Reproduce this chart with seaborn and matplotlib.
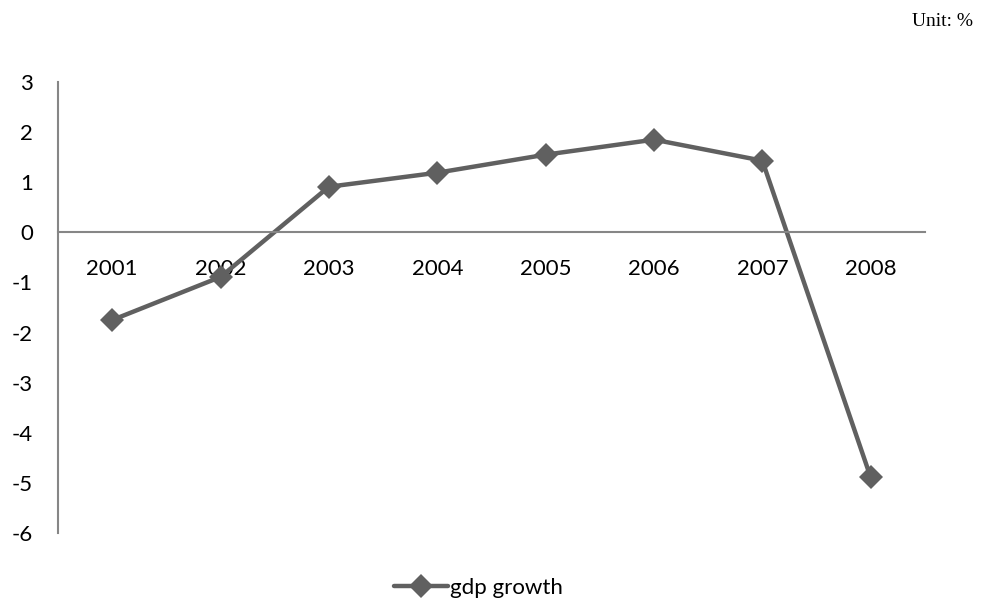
import pandas as pd
import seaborn as sns
import matplotlib.pyplot as plt

# GDP growth by year
years = ["2001", "2002", "2003", "2004", "2005", "2006", "2007", "2008"]
growth = [-1.75, -0.89, 0.91, 1.19, 1.55, 1.85, 1.43, -4.89]
yticks = [3, 2, 1, 0, -1, -2, -3, -4, -5, -6]

df = pd.DataFrame({"year": years, "gdp growth": growth})

sns.set_style("white")
plt.rcParams["font.family"] = ["Lato", "DejaVu Sans"]

fig = plt.figure(figsize=(9.93, 6.03), dpi=100)
ax = fig.add_axes([0.0584, 0.116, 0.873, 0.748])

line_col = "#606060"
sns.lineplot(data=df, x="year", y="gdp growth", sort=False, ax=ax,
             color=line_col, linewidth=3.2, marker="D", markersize=12,
             markeredgewidth=0, label="gdp growth")

ax.set_xlim(-0.5, len(years) - 0.5)
ax.set_ylim(-6, 3)
ax.set_yticks(yticks)
ax.set_yticklabels([str(t) for t in yticks])

for s in ["top", "right"]:
    ax.spines[s].set_visible(False)
ax.spines["bottom"].set_position(("data", 0))
ax.spines["bottom"].set_color("#868686")
ax.spines["left"].set_color("#868686")
ax.spines["bottom"].set_linewidth(1.5)
ax.spines["left"].set_linewidth(1.5)

ax.tick_params(axis="x", length=0, pad=19, labelsize=16, labelcolor="black")
ax.tick_params(axis="y", length=0, pad=18, labelsize=16, labelcolor="black")
ax.set_xlabel("")
ax.set_ylabel("")

ax.legend(loc="upper center", bbox_to_anchor=(0.485, -0.055), frameon=False,
          fontsize=16, handlelength=2.4, handletextpad=0.1, labelcolor="black")

fig.text(0.98, 0.965, "Unit: %", ha="right", va="center",
         family="Liberation Serif", fontsize=14, color="black")

plt.savefig("out.png", dpi=100)
